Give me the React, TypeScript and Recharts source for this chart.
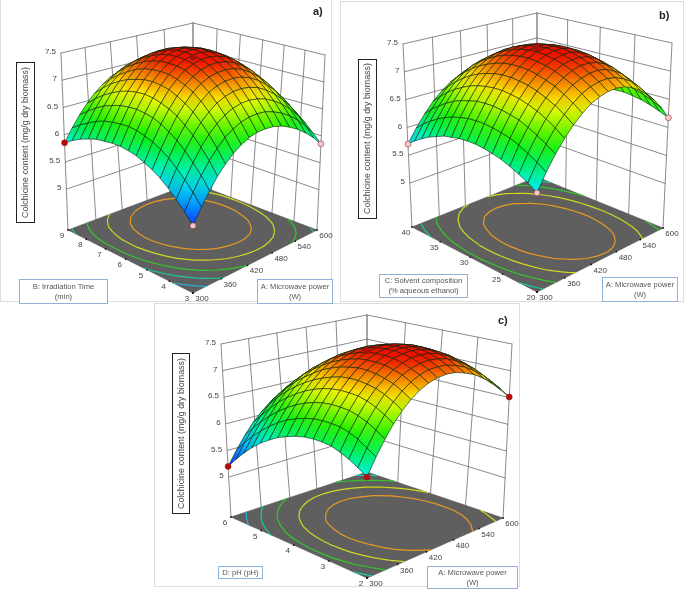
import { ScatterChart, Scatter, XAxis, YAxis } from 'recharts'

// response tables, one row per step of the second factor (front to back), one column per step of power
const surfaceA = [
  [5.27,5.50,5.71,5.89,6.04,6.17,6.27,6.35,6.40,6.42,6.42,6.39,6.33,6.25,6.14,6.01,5.85],
  [5.43,5.68,5.90,6.09,6.25,6.39,6.49,6.57,6.62,6.64,6.64,6.60,6.54,6.45,6.33,6.18,6.00],
  [5.57,5.83,6.06,6.27,6.44,6.58,6.69,6.77,6.82,6.84,6.83,6.79,6.72,6.62,6.49,6.33,6.14],
  [5.70,5.97,6.21,6.42,6.60,6.74,6.86,6.94,6.99,7.01,7.00,6.96,6.88,6.77,6.63,6.46,6.26],
  [5.81,6.09,6.34,6.55,6.74,6.89,7.01,7.09,7.14,7.16,7.15,7.10,7.02,6.90,6.76,6.58,6.37],
  [5.90,6.19,6.44,6.67,6.85,7.01,7.13,7.21,7.26,7.28,7.27,7.22,7.13,7.01,6.86,6.67,6.45],
  [5.97,6.27,6.53,6.75,6.94,7.10,7.22,7.31,7.36,7.38,7.36,7.31,7.22,7.10,6.94,6.75,6.52],
  [6.04,6.33,6.60,6.82,7.02,7.17,7.30,7.38,7.43,7.45,7.43,7.38,7.29,7.16,7.00,6.81,6.58],
  [6.08,6.38,6.64,6.87,7.06,7.22,7.34,7.43,7.48,7.50,7.48,7.42,7.33,7.20,7.05,6.85,6.62],
  [6.11,6.41,6.67,6.90,7.09,7.24,7.36,7.45,7.50,7.52,7.50,7.44,7.35,7.23,7.07,6.87,6.64],
  [6.12,6.41,6.67,6.90,7.09,7.24,7.36,7.45,7.50,7.51,7.49,7.44,7.35,7.23,7.07,6.88,6.65],
  [6.11,6.40,6.66,6.88,7.06,7.22,7.33,7.42,7.47,7.48,7.46,7.41,7.33,7.21,7.05,6.86,6.64],
  [6.10,6.38,6.62,6.84,7.02,7.17,7.28,7.36,7.41,7.43,7.41,7.36,7.28,7.16,7.01,6.83,6.62],
  [6.06,6.33,6.57,6.77,6.95,7.09,7.20,7.28,7.33,7.35,7.33,7.29,7.21,7.10,6.95,6.78,6.57],
  [6.01,6.26,6.49,6.69,6.86,6.99,7.10,7.18,7.22,7.24,7.23,7.18,7.11,7.01,6.87,6.71,6.52],
  [5.94,6.18,6.39,6.58,6.74,6.87,6.97,7.05,7.09,7.11,7.10,7.06,6.99,6.90,6.77,6.62,6.44],
  [5.85,6.08,6.28,6.45,6.60,6.72,6.82,6.89,6.94,6.95,6.95,6.92,6.85,6.77,6.67,6.53,6.35],
]

const surfaceB = [
  [5.77,6.04,6.27,6.47,6.64,6.78,6.89,6.96,7.00,7.01,6.99,6.93,6.84,6.72,6.57,6.39,6.17],
  [5.87,6.14,6.38,6.59,6.76,6.90,7.01,7.08,7.12,7.13,7.10,7.04,6.95,6.82,6.66,6.47,6.24],
  [5.95,6.23,6.47,6.69,6.86,7.00,7.11,7.18,7.22,7.23,7.20,7.13,7.04,6.90,6.74,6.54,6.30],
  [6.02,6.31,6.55,6.77,6.94,7.09,7.19,7.27,7.31,7.31,7.28,7.21,7.11,6.97,6.80,6.59,6.35],
  [6.08,6.37,6.62,6.83,7.01,7.15,7.26,7.33,7.37,7.37,7.34,7.27,7.16,7.02,6.84,6.63,6.38],
  [6.12,6.41,6.66,6.88,7.06,7.20,7.31,7.38,7.42,7.42,7.38,7.31,7.20,7.05,6.87,6.65,6.40],
  [6.15,6.44,6.69,6.91,7.09,7.24,7.34,7.41,7.45,7.45,7.41,7.33,7.22,7.07,6.88,6.66,6.40],
  [6.17,6.46,6.71,6.93,7.11,7.25,7.36,7.43,7.46,7.45,7.41,7.33,7.22,7.07,6.88,6.65,6.39],
  [6.17,6.46,6.71,6.93,7.11,7.25,7.35,7.42,7.45,7.44,7.40,7.32,7.21,7.05,6.86,6.63,6.37],
  [6.16,6.45,6.70,6.91,7.09,7.23,7.33,7.40,7.42,7.42,7.37,7.29,7.17,7.02,6.83,6.60,6.33],
  [6.13,6.42,6.66,6.88,7.05,7.19,7.29,7.35,7.38,7.37,7.33,7.24,7.12,6.97,6.78,6.55,6.28],
  [6.10,6.38,6.62,6.83,7.00,7.13,7.23,7.29,7.32,7.31,7.26,7.18,7.06,6.90,6.71,6.49,6.22],
  [6.04,6.32,6.56,6.76,6.93,7.06,7.15,7.21,7.24,7.22,7.18,7.09,6.98,6.82,6.63,6.41,6.14],
  [5.98,6.25,6.48,6.68,6.84,6.97,7.06,7.11,7.14,7.12,7.08,6.99,6.88,6.72,6.53,6.31,6.05],
  [5.90,6.16,6.38,6.58,6.73,6.86,6.95,7.00,7.02,7.01,6.96,6.88,6.76,6.61,6.42,6.20,5.95],
  [5.81,6.06,6.28,6.46,6.61,6.73,6.81,6.87,6.88,6.87,6.82,6.74,6.62,6.48,6.29,6.08,5.83],
  [5.70,5.94,6.15,6.33,6.47,6.59,6.67,6.71,6.73,6.71,6.67,6.59,6.47,6.33,6.15,5.94,5.70],
]

const surfaceC = [
  [5.82,6.09,6.33,6.54,6.72,6.87,6.99,7.08,7.14,7.17,7.17,7.13,7.07,6.98,6.85,6.70,6.51],
  [5.92,6.19,6.44,6.65,6.83,6.98,7.10,7.19,7.25,7.27,7.27,7.23,7.17,7.07,6.95,6.79,6.60],
  [6.01,6.29,6.53,6.74,6.92,7.07,7.19,7.27,7.33,7.36,7.35,7.32,7.25,7.15,7.03,6.87,6.68],
  [6.08,6.36,6.60,6.81,6.99,7.13,7.25,7.34,7.40,7.42,7.42,7.38,7.31,7.21,7.09,6.93,6.74],
  [6.14,6.41,6.65,6.86,7.03,7.18,7.30,7.39,7.44,7.47,7.46,7.42,7.35,7.26,7.13,6.97,6.78],
  [6.16,6.43,6.67,6.88,7.06,7.21,7.32,7.41,7.47,7.49,7.48,7.44,7.37,7.27,7.14,6.98,6.78],
  [6.17,6.44,6.68,6.89,7.07,7.22,7.33,7.42,7.47,7.49,7.49,7.45,7.38,7.27,7.14,6.98,6.78],
  [6.16,6.43,6.67,6.88,7.06,7.20,7.32,7.40,7.46,7.48,7.47,7.43,7.36,7.25,7.12,6.96,6.76],
  [6.13,6.40,6.64,6.85,7.02,7.17,7.28,7.37,7.42,7.44,7.43,7.39,7.32,7.22,7.08,6.92,6.72],
  [6.08,6.35,6.59,6.80,6.97,7.12,7.23,7.31,7.37,7.39,7.38,7.33,7.26,7.16,7.02,6.86,6.66],
  [6.02,6.29,6.52,6.73,6.90,7.05,7.16,7.24,7.29,7.31,7.30,7.26,7.19,7.08,6.95,6.78,6.59],
  [5.93,6.20,6.43,6.64,6.81,6.95,7.06,7.15,7.20,7.22,7.20,7.16,7.09,6.98,6.85,6.68,6.49],
  [5.83,6.09,6.32,6.53,6.70,6.84,6.95,7.03,7.08,7.10,7.09,7.04,6.97,6.86,6.73,6.56,6.37],
  [5.70,5.96,6.19,6.40,6.57,6.71,6.82,6.90,6.95,6.96,6.95,6.91,6.83,6.73,6.59,6.42,6.22],
  [5.55,5.81,6.04,6.24,6.42,6.55,6.66,6.74,6.79,6.81,6.79,6.75,6.67,6.57,6.43,6.26,6.06],
  [5.38,5.64,5.87,6.07,6.24,6.38,6.49,6.57,6.62,6.63,6.62,6.57,6.49,6.39,6.25,6.08,5.88],
  [5.20,5.46,5.69,5.89,6.05,6.19,6.30,6.37,6.42,6.44,6.42,6.38,6.30,6.19,6.06,5.88,5.69],
]

const powerTicks = [300, 360, 420, 480, 540, 600]
const timeTicks = [3, 4, 5, 6, 7, 8, 9]
const solventTicks = [20, 25, 30, 35, 40]
const phTicks = [2, 3, 4, 5, 6]
const contentTicks = [5, 5.5, 6, 6.5, 7, 7.5]
const contourLevels = [5.6, 5.95, 6.3, 6.7, 7.07]
const contourColors = ['#22b4d8', '#1cc8a0', '#34c82c', '#d0d820', '#e89a20']

const RED = '#c00808'
const PINK = '#f6c6c6'

// [power, second factor, content, color]
const pointsA = [[300, 9, 5.85, RED], [600, 3, 5.85, PINK], [300, 3, 5.27, PINK], [450, 6, 7.44, '#a81008']]
const pointsB = [[300, 40, 5.70, PINK], [600, 20, 6.17, PINK], [300, 20, 5.77, PINK], [450, 30, 7.42, '#a81008']]
const pointsC = [[300, 6, 5.20, RED], [600, 2, 6.51, RED], [300, 2, 5.82, RED], [450, 4, 7.38, RED]]

type Pt = number[]
const homography = (F: Pt, R: Pt, B: Pt, L: Pt) => {
  const dx1 = R[0] - B[0], dx2 = L[0] - B[0], sx = F[0] - R[0] + B[0] - L[0]
  const dy1 = R[1] - B[1], dy2 = L[1] - B[1], sy = F[1] - R[1] + B[1] - L[1]
  const den = dx1 * dy2 - dx2 * dy1
  const g = (sx * dy2 - dx2 * sy) / den
  const h = (dx1 * sy - sx * dy1) / den
  return (u: number, v: number) => {
    const w = g * u + h * v + 1
    return [
      ((R[0] - F[0] + g * R[0]) * u + (L[0] - F[0] + h * L[0]) * v + F[0]) / w,
      ((R[1] - F[1] + g * R[1]) * u + (L[1] - F[1] + h * L[1]) * v + F[1]) / w,
    ]
  }
}

const STOPS = [[10, 48, 255], [0, 240, 255], [0, 240, 0], [250, 250, 0], [240, 16, 0]]
const rainbow = (z: number) => {
  const f = Math.min(0.9999, Math.max(0, (z - 5.25) / 2.15)) * 4
  const i = Math.floor(f)
  const c = STOPS[i].map((a, k) => Math.round(a + (STOPS[i + 1][k] - a) * (f - i)))
  return `rgb(${c[0]},${c[1]},${c[2]})`
}

const panels = [
  {
    table: surfaceA, vTicks: timeTicks, points: pointsA, zFloor: 4.25,
    floor: [[193, 293], [317, 230], [193, 183], [68, 230]],
    top: [[193, 79], [325, 55], [193, 23], [61, 53]],
  },
  {
    table: surfaceB, vTicks: solventTicks, points: pointsB, zFloor: 4.21,
    floor: [[537, 292], [663, 228], [537, 177], [412, 227]],
    top: [[537, 83], [672, 43], [537, 13], [403, 44]],
  },
  {
    table: surfaceC, vTicks: phTicks, points: pointsC, zFloor: 4.25,
    floor: [[367, 578], [503, 518], [367, 472], [231, 517]],
    top: [[367, 369], [512, 344], [367, 315], [221, 344]],
  },
]

const noMark = () => null
const xy = (p: number[]) => ({ x: p[0], y: p[1] })

const segments = (stroke: string, width: number) => (props: any) => {
  const p = props.points
  let d = ''
  for (let i = 0; i + 1 < p.length; i += 2) d += `M${p[i].x} ${p[i].y}L${p[i + 1].x} ${p[i + 1].y}`
  return <path d={d} fill="none" stroke={stroke} strokeWidth={width} strokeLinecap="round" />
}

// every cell is shaded from its lowest corner to its highest one
const quads = (prefix: string, heights: number[][]) => (props: any) => {
  const p = props.points
  return (
    <g>
      {heights.map((zs, n) => {
        const q = p.slice(n * 4, n * 4 + 4)
        const lo = zs.indexOf(Math.min(...zs))
        const hi = zs.indexOf(Math.max(...zs))
        const id = `${prefix}-${n}`
        return (
          <g key={n}>
            <linearGradient id={id} gradientUnits="userSpaceOnUse" x1={q[lo].x} y1={q[lo].y} x2={q[hi].x} y2={q[hi].y}>
              <stop offset="0" stopColor={rainbow(zs[lo])} />
              <stop offset="1" stopColor={rainbow(zs[hi])} />
            </linearGradient>
            <polygon
              points={q.map((a: any) => `${a.x},${a.y}`).join(' ')}
              fill={`url(#${id})`}
              stroke="#0a2410"
              strokeOpacity={0.85}
              strokeWidth={0.7}
            />
          </g>
        )
      })}
    </g>
  )
}

const floorFill = (props: any) => (
  <polygon points={props.points.map((a: any) => `${a.x},${a.y}`).join(' ')} fill="#5f5f5f" stroke="#555" strokeWidth={0.6} />
)

const tickText = (props: any) => (
  <text
    x={props.cx + props.payload.dx}
    y={props.cy + props.payload.dy}
    fontFamily="Liberation Sans"
    fontSize={8}
    fill="#444"
    textAnchor={props.payload.anchor}
    dominantBaseline="middle"
  >
    {props.payload.label}
  </text>
)

const tickDot = (props: any) => <circle cx={props.cx} cy={props.cy} r={0.9} fill="#111" />

const designDot = (props: any) => (
  <circle cx={props.cx} cy={props.cy} r={3} fill={props.payload.color} stroke="#7a2020" strokeWidth={0.5} />
)

// walks each grid cell and joins the places where a level crosses its sides
const contourSegments = (table: number[][], level: number) => {
  const out: number[][] = []
  const n = table.length - 1
  for (let j = 0; j < n; j++) {
    for (let i = 0; i < n; i++) {
      const c = [[i, j], [i + 1, j], [i + 1, j + 1], [i, j + 1]]
      const hits: number[][] = []
      c.forEach((a, k) => {
        const b = c[(k + 1) % 4]
        const za = table[a[1]][a[0]]
        const zb = table[b[1]][b[0]]
        if (za >= level !== zb >= level) {
          const f = (level - za) / (zb - za)
          hits.push([(a[0] + (b[0] - a[0]) * f) / n, (a[1] + (b[1] - a[1]) * f) / n])
        }
      })
      if (hits.length >= 2) out.push(hits[0], hits[1])
    }
  }
  return out
}

const renderPanel = (panel: any, idx: number) => {
  const { table, vTicks, points, zFloor } = panel
  const H0 = homography(panel.floor[0], panel.floor[1], panel.floor[2], panel.floor[3])
  const H1 = homography(panel.top[0], panel.top[1], panel.top[2], panel.top[3])
  const project = (u: number, v: number, z: number) => {
    const a = H0(u, v)
    const b = H1(u, v)
    const w = (z - zFloor) / (7.5 - zFloor)
    return [a[0] + (b[0] - a[0]) * w, a[1] + (b[1] - a[1]) * w]
  }
  const uOf = (t: number) => (t - powerTicks[0]) / (powerTicks[powerTicks.length - 1] - powerTicks[0])
  const vOf = (t: number) => (t - vTicks[0]) / (vTicks[vTicks.length - 1] - vTicks[0])

  const wall: any[] = []
  contentTicks.forEach((z) => {
    wall.push(xy(project(0, 1, z)), xy(project(1, 1, z)), xy(project(1, 1, z)), xy(project(1, 0, z)))
  })
  powerTicks.forEach((t) => wall.push(xy(project(uOf(t), 1, zFloor)), xy(project(uOf(t), 1, 7.5))))
  vTicks.forEach((t: number) => wall.push(xy(project(1, vOf(t), zFloor)), xy(project(1, vOf(t), 7.5))))

  const floorPts = panel.floor.map(xy)

  const n = table.length - 1
  const surfacePts: any[] = []
  const cellHeights: number[][] = []
  for (let j = n - 1; j >= 0; j--) {
    for (let i = n - 1; i >= 0; i--) {
      const c = [[i, j], [i + 1, j], [i + 1, j + 1], [i, j + 1]]
      c.forEach((a) => surfacePts.push(xy(project(a[0] / n, a[1] / n, table[a[1]][a[0]]))))
      cellHeights.push(c.map((a) => table[a[1]][a[0]]))
    }
  }

  const labels = [
    ...powerTicks.map((t) => ({ ...xy(H0(uOf(t), 0)), label: t, dx: 9, dy: 6, anchor: 'middle' })),
    ...vTicks.map((t: number) => ({ ...xy(H0(0, vOf(t))), label: t, dx: -6, dy: 6, anchor: 'middle' })),
    ...contentTicks.map((z) => ({ ...xy(project(0, 1, z)), label: z, dx: -5, dy: -1, anchor: 'end' })),
  ]
  const tickPts = [
    ...powerTicks.map((t) => xy(H0(uOf(t), 0))),
    ...vTicks.map((t: number) => xy(H0(0, vOf(t)))),
  ]
  const dots = points.map((d: any) => ({ ...xy(project(uOf(d[0]), vOf(d[1]), d[2])), color: d[3] }))

  return [
    <Scatter key={`wall-${idx}`} data={wall} line={segments('#7d7d7d', 0.9)} lineType="joint" shape={noMark} isAnimationActive={false} />,
    <Scatter key={`floor-${idx}`} data={floorPts} line={floorFill} lineType="joint" shape={noMark} isAnimationActive={false} />,
    ...contourLevels.map((level, k) => (
      <Scatter
        key={`contour-${idx}-${k}`}
        data={contourSegments(table, level).map((a) => xy(H0(a[0], a[1])))}
        line={segments(contourColors[k], 1.2)}
        lineType="joint"
        shape={noMark}
        isAnimationActive={false}
      />
    )),
    <Scatter key={`tick-${idx}`} data={tickPts} shape={tickDot} isAnimationActive={false} />,
    <Scatter key={`label-${idx}`} data={labels} shape={tickText} isAnimationActive={false} />,
    <Scatter key={`surface-${idx}`} data={surfacePts} line={quads(`cell${idx}`, cellHeights)} lineType="joint" shape={noMark} isAnimationActive={false} />,
    <Scatter key={`dots-${idx}`} data={dots} shape={designDot} isAnimationActive={false} />,
  ]
}

const frames = [
  { left: 0, top: -1, width: 332, height: 303 },
  { left: 340, top: 1, width: 344, height: 301 },
  { left: 154, top: 303, width: 366, height: 284 },
]

const yTitles = [
  { left: 16, top: 62, width: 19, height: 161 },
  { left: 358, top: 59, width: 19, height: 160 },
  { left: 172, top: 353, width: 18, height: 161 },
]

const factorBoxes = [
  { left: 19, top: 279, width: 89, height: 25, lines: ['B: Irradiation Time', '(min)'] },
  { left: 257, top: 279, width: 76, height: 25, lines: ['A: Microwave power', '(W)'] },
  { left: 379, top: 274, width: 89, height: 24, lines: ['C: Solvent composition', '(% aqueous ethanol)'] },
  { left: 602, top: 277, width: 76, height: 25, lines: ['A: Microwave power', '(W)'] },
  { left: 218, top: 566, width: 45, height: 13, lines: ['D: pH (pH)'] },
  { left: 427, top: 566, width: 91, height: 23, lines: ['A: Microwave power', '(W)'] },
]

const panelTags = [
  { left: 313, top: 5, text: 'a)' },
  { left: 659, top: 9, text: 'b)' },
  { left: 498, top: 314, text: 'c)' },
]

const font = 'Liberation Sans'

export default function App() {
  return (
    <div style={{ position: 'absolute', left: 0, top: 0, width: 685, height: 595, background: '#fff', overflow: 'hidden', fontFamily: font, filter: 'blur(0.3px)' }}>
      {frames.map((f, i) => (
        <div key={i} style={{ position: 'absolute', ...f, boxSizing: 'border-box', border: '1px solid #ddd' }} />
      ))}
      <div style={{ position: 'absolute', left: 0, top: 0 }}>
        <ScatterChart width={685} height={595} margin={{ top: 0, right: 0, bottom: 0, left: 0 }}>
          <XAxis type="number" dataKey="x" domain={[0, 685]} hide allowDataOverflow />
          <YAxis type="number" dataKey="y" domain={[0, 595]} reversed hide allowDataOverflow />
          {panels.flatMap(renderPanel)}
        </ScatterChart>
      </div>
      {yTitles.map((t, i) => (
        <div
          key={i}
          style={{
            position: 'absolute', ...t, boxSizing: 'border-box', border: '1.5px solid #222', background: '#fff',
            writingMode: 'vertical-rl', transform: 'rotate(180deg)', textAlign: 'center', fontSize: 8.9,
            lineHeight: '16px', color: '#444', whiteSpace: 'nowrap',
          }}
        >
          Colchicine content (mg/g dry biomass)
        </div>
      ))}
      {factorBoxes.map((b, i) => (
        <div
          key={i}
          style={{
            position: 'absolute', left: b.left, top: b.top, width: b.width, height: b.height, boxSizing: 'border-box',
            border: '1px solid #8fb2dc', background: '#fff', display: 'flex', flexDirection: 'column',
            justifyContent: 'center', alignItems: 'center', fontSize: 7.6, lineHeight: '10px', color: '#555', whiteSpace: 'nowrap',
          }}
        >
          {b.lines.map((l) => <span key={l}>{l}</span>)}
        </div>
      ))}
      {panelTags.map((t) => (
        <div key={t.text} style={{ position: 'absolute', left: t.left, top: t.top, fontWeight: 'bold', fontSize: 11, color: '#222' }}>
          {t.text}
        </div>
      ))}
    </div>
  )
}
